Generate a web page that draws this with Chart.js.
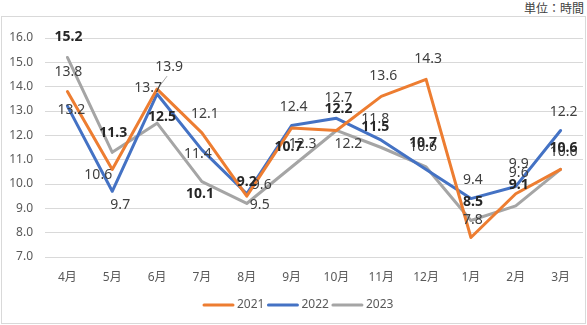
<!DOCTYPE html>
<html>
<head>
<meta charset="utf-8">
<script src="https://cdn.jsdelivr.net/npm/chart.js@4/dist/chart.umd.min.js"></script>
<style>
  body { margin: 0; background: #fff; }
  #wrap { position: relative; width: 587px; height: 325px; }
  #frame { position: absolute; left: 1px; top: 16px; width: 585px; height: 308px; border: 1px solid #d9d9d9; box-sizing: border-box; }
  #unit { position: absolute; right: 3px; top: -1px; font: 12px 'Noto Sans CJK JP', sans-serif; color: #404040; }
  canvas { position: absolute; left: 0; top: 0; }
</style>
</head>
<body>
<div id="wrap">
  <div id="frame"></div>
  <div id="unit">単位：時間</div>
  <canvas id="myChart" width="587" height="325"></canvas>
</div>
<script>
// data
var months = ['4月', '5月', '6月', '7月', '8月', '9月', '10月', '11月', '12月', '1月', '2月', '3月'];
var y2021 = [13.8, 10.6, 13.9, 12.1, 9.5, 12.3, 12.2, 13.6, 14.3, 7.8, 9.6, 10.6];
var y2022 = [13.2, 9.7, 13.7, 11.4, 9.6, 12.4, 12.7, 11.8, 10.6, 9.4, 9.9, 12.2];
var y2023 = [15.2, 11.3, 12.5, 10.1, 9.2, 10.7, 12.2, 11.5, 10.7, 8.5, 9.1, 10.6];
var yTicks = [7, 8, 9, 10, 11, 12, 13, 14, 15, 16];

// where each value label sits, relative to its point (dx, dy)
var labelPos = [
    [[1,-20],[-14,6],[12,-22],[3,-19],[13,9],[11,16],[12,14],[2,-20],[2,-20],[2,-18],[3,-21],[3,-17]],
    [[4,4],[8,14],[-9,-6],[-4,4],[15,-9],[2,-19],[2,-20],[-6,-21],[-3,-22],[2,-19],[3,-22],[3,-18]],
    [[1,-20],[1,-19],[5,-6],[-2,12],[0,-21],[-3,-20],[2,-21],[-6,-20],[-3,-24],[2,-18],[3,-21],[3,-21]]
];

const fontFam = "'Noto Sans', 'Noto Sans CJK JP', sans-serif";

const valueLabels = {
    id: 'valueLabels',
    afterDatasetsDraw(chart) {
        const ctx = chart.ctx;
        ctx.save();
        // leader line of the moved 13.9 label (2021, 6月)
        const p = chart.getDatasetMeta(0).data[2];
        ctx.strokeStyle = '#a6a6a6';
        ctx.lineWidth = 1;
        ctx.beginPath();
        ctx.moveTo(p.x + 1, p.y - 1);
        ctx.lineTo(p.x + 10, p.y - 13);
        ctx.stroke();

        ctx.textAlign = 'center';
        ctx.textBaseline = 'middle';
        chart.data.datasets.forEach((ds, di) => {
            const meta = chart.getDatasetMeta(di);
            ctx.font = (di == 2 ? 'bold ' : '') + '14px ' + fontFam;
            ctx.fillStyle = di == 2 ? '#262626' : '#404040';
            meta.data.forEach((pt, i) => {
                const off = labelPos[di][i];
                ctx.fillText(ds.data[i].toFixed(1), pt.x + off[0], pt.y + off[1]);
            });
        });
        ctx.restore();
    }
};

const lineLegend = {
    id: 'lineLegend',
    afterDraw(chart) {
        const ctx = chart.ctx;
        let x = 203;
        const y = 305;
        ctx.save();
        ctx.font = '12px ' + fontFam;
        ctx.textBaseline = 'middle';
        ctx.textAlign = 'left';
        chart.data.datasets.forEach((ds) => {
            ctx.strokeStyle = ds.borderColor;
            ctx.lineWidth = 3;
            ctx.lineCap = 'round';
            ctx.beginPath();
            ctx.moveTo(x + 1, y);
            ctx.lineTo(x + 30, y);
            ctx.stroke();
            ctx.fillStyle = '#595959';
            ctx.fillText(ds.label, x + 34, y);
            x += 34 + ctx.measureText(ds.label).width + 3;
        });
        ctx.restore();
    }
};

function makeSet(label, data, color) {
    return {
        label: label,
        data: data,
        borderColor: color,
        backgroundColor: color,
        borderWidth: 3,
        borderCapStyle: 'round',
        borderJoinStyle: 'round',
        pointRadius: 0,
        tension: 0
    };
}

new Chart(document.getElementById('myChart').getContext('2d'), {
    type: 'line',
    data: {
        labels: months,
        datasets: [
            makeSet('2021', y2021, '#ED7D31'),
            makeSet('2022', y2022, '#4472C4'),
            makeSet('2023', y2023, '#A5A5A5')
        ]
    },
    options: {
        responsive: false,
        animation: false,
        layout: { padding: { top: 38, left: 0, right: 4, bottom: 38 } },
        plugins: {
            legend: { display: false },
            tooltip: { enabled: false }
        },
        scales: {
            x: {
                offset: true,
                grid: { display: false, drawTicks: false },
                border: { display: false },
                ticks: { color: '#595959', font: { size: 12, family: fontFam }, padding: 13, maxRotation: 0 },
                afterFit(scale) { scale.height = 30; }
            },
            y: {
                min: 7,
                max: 16,
                afterBuildTicks(scale) { scale.ticks = yTicks.map(v => ({ value: v })); },
                grid: { color: '#d9d9d9', lineWidth: 1, drawTicks: false },
                border: { display: false },
                ticks: {
                    color: '#595959',
                    font: { size: 12, family: fontFam },
                    padding: 12,
                    callback: (v) => Number(v).toFixed(1)
                },
                afterFit(scale) { scale.width = 45; }
            }
        }
    },
    plugins: [valueLabels, lineLegend]
});
</script>
</body>
</html>
